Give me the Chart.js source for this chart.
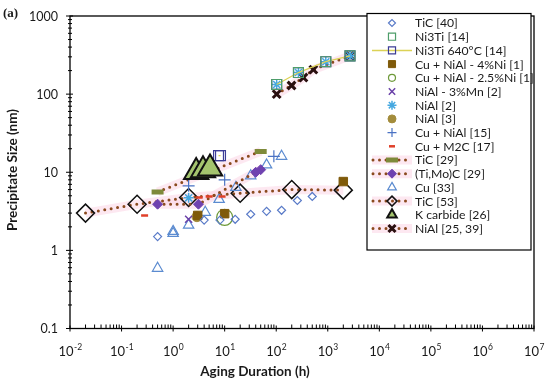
<!DOCTYPE html>
<html>
<head>
<meta charset="utf-8">
<script src="https://cdn.jsdelivr.net/npm/chart.js@4.4.1/dist/chart.umd.min.js"></script>
<style>
  html, body { margin: 0; padding: 0; background: #fff; }
</style>
</head>
<body>
<canvas id="chart" width="550" height="383"></canvas>
<script>
// Values (aging time in h, precipitate size in nm)
const tic40X = [0.5, 4, 8.1, 16, 32, 65, 127, 257, 500];
const tic40Y = [1.5, 2.44, 2.44, 2.5, 2.9, 3.16, 3.26, 4.35, 4.9];
const ni3tiX = [102, 270, 915, 2700];
const ni3tiY = [133, 189, 260, 309];
const ni3ti640X = [7.6, 8.3, 102, 270, 915, 2700];
const ni3ti640Y = [16.3, 16.3, 133, 189, 260, 309];
const cuNiAl4X = [3, 10, 2000];
const cuNiAl4Y = [2.8, 2.95, 7.6];
const cuNiAl25X = [10];
const cuNiAl25Y = [2.65];
const niAlMnX = [2];
const niAlMnY = [2.5];
const niAl2X = [2, 102, 270, 915, 2700];
const niAl2Y = [4.7, 133, 189, 260, 309];
const niAl3X = [2.9];
const niAl3Y = [2.7];
const cuNiAl15X = [2, 10, 90];
const cuNiAl15Y = [6.7, 8, 16];
const cuM2CX = [0.28, 3.2, 5, 8.9];
const cuM2CY = [2.8, 4.75, 4.9, 4.9];
const tic29X = [0.5, 50];
const tic29Y = [5.6, 18.5];
const tiMoCX = [0.5, 3.1, 40, 50];
const tiMoCY = [3.9, 3.9, 10, 10.8];
const cu33X = [0.5, 1, 1, 2, 4.2, 7.8, 16.5, 32, 65, 127];
const cu33Y = [0.59, 1.65, 1.75, 2.1, 3.07, 4.5, 6.4, 9.0, 12.4, 16];
const tic53X = [0.02, 0.2, 2, 20, 200, 2000];
const tic53Y = [3.0, 3.9, 4.75, 5.4, 6.0, 5.9];
const kCarbideX = [2.8, 3.8, 5.2];
const kCarbideY = [10.1, 10.6, 11.2];
const niAl2539X = [102, 198, 337, 525, 2700];
const niAl2539Y = [100, 129, 163, 206, 309];

const xTickExp = [-2, -1, 0, 1, 2, 3, 4, 5, 6, 7];
const yTicks = [0.1, 1, 10, 100, 1000];

const DOT = '#8B4A1E';
const GLOW = 'rgba(252, 214, 230, 0.55)';
const FONT = 'Lato, "Open Sans", sans-serif';

function pts(xs, ys) {
  return xs.map((x, i) => ({ x: x, y: ys[i] }));
}

// series styles; the box legend is drawn from the same list
const series = [
  { label: 'TiC [40]', xs: tic40X, ys: tic40Y, style: 'rectRot', r: 4, lr: 3.5, stroke: '#5A7BC8', fill: 'rgba(0,0,0,0)', bw: 1.2 },
  { label: 'Ni3Ti [14]', xs: ni3tiX, ys: ni3tiY, style: 'rect', r: 7, lr: 5, stroke: '#4E9E6A', fill: 'rgba(0,0,0,0)', bw: 1.2 },
  { label: 'Ni3Ti 640°C [14]', xs: ni3ti640X, ys: ni3ti640Y, style: 'rect', r: 7, lr: 5, stroke: '#3C3C96', fill: 'rgba(0,0,0,0)', bw: 1.2, line: '#DCD256', gapAt: 1 },
  { label: 'Cu + NiAl - 4%Ni [1]', xs: cuNiAl4X, ys: cuNiAl4Y, style: 'rect', r: 6, lr: 5, stroke: '#7F5A0A', fill: '#7F5A0A', bw: 1 },
  { label: 'Cu + NiAl - 2.5%Ni [1]', xs: cuNiAl25X, ys: cuNiAl25Y, style: 'circle', r: 8, lr: 3.5, stroke: '#6E9A3A', fill: 'rgba(0,0,0,0)', bw: 1.2 },
  { label: 'NiAl - 3%Mn [2]', xs: niAlMnX, ys: niAlMnY, style: 'crossRot', r: 5, lr: 4.5, stroke: '#6A40A8', fill: 'rgba(0,0,0,0)', bw: 1.5 },
  { label: 'NiAl [2]', xs: niAl2X, ys: niAl2Y, style: 'star', r: 5, lr: 4.5, stroke: '#45A8E0', fill: 'rgba(0,0,0,0)', bw: 1.5 },
  { label: 'NiAl [3]', xs: niAl3X, ys: niAl3Y, style: 'circle', r: 5, lr: 4, stroke: '#A38C3C', fill: '#A38C3C', bw: 1 },
  { label: 'Cu + NiAl [15]', xs: cuNiAl15X, ys: cuNiAl15Y, style: 'cross', r: 6, lr: 4.5, stroke: '#4A72C4', fill: 'rgba(0,0,0,0)', bw: 1.2 },
  { label: 'Cu + M2C [17]', xs: cuM2CX, ys: cuM2CY, style: 'line', r: 3.5, lr: 3, stroke: '#E0402A', fill: '#E0402A', bw: 2.5 },
  { label: 'TiC [29]', xs: tic29X, ys: tic29Y, style: 'line', r: 6, lr: 6, stroke: '#7E8A3A', fill: '#7E8A3A', bw: 5, dotted: true },
  { label: '(Ti,Mo)C [29]', xs: tiMoCX, ys: tiMoCY, style: 'rectRot', r: 5, lr: 4.5, stroke: '#6F42B0', fill: '#6F42B0', bw: 1, dotted: true },
  { label: 'Cu [33]', xs: cu33X, ys: cu33Y, style: 'triangle', r: 6, lr: 5, stroke: '#5B8BD0', fill: 'rgba(0,0,0,0)', bw: 1.2 },
  { label: 'TiC [53]', xs: tic53X, ys: tic53Y, style: 'rectRot', r: 9, lr: 5, stroke: '#111111', fill: 'rgba(0,0,0,0)', bw: 1.5, dotted: true },
  { label: 'K carbide [26]', xs: kCarbideX, ys: kCarbideY, style: 'triangle', r: 14, lr: 5.5, stroke: '#111111', fill: '#A4C46E', bw: 2 },
  { label: 'NiAl [25, 39]', xs: niAl2539X, ys: niAl2539Y, style: 'crossRot', r: 5.5, lr: 5, stroke: '#2A1010', fill: '#2A1010', bw: 3, dotted: true }
];

const datasets = [];
series.forEach((s, i) => {
  const ds = {
    label: s.label,
    data: pts(s.xs, s.ys),
    pointStyle: s.style,
    pointRadius: s.r,
    pointHoverRadius: s.r,
    pointBorderWidth: s.bw,
    pointBorderColor: s.stroke,
    pointBackgroundColor: s.fill,
    showLine: !!(s.dotted || s.line),
    borderColor: s.dotted ? DOT : (s.line || s.stroke),
    borderWidth: s.dotted ? 3 : 1.3,
    borderDash: s.dotted ? [0, 6.5] : [],
    borderCapStyle: s.dotted ? 'round' : 'butt',
    order: s.label === 'K carbide [26]' ? 0 : i + 1
  };
  if (s.gapAt !== undefined) {
    ds.segment = { borderColor: c => (c.p0DataIndex === s.gapAt ? 'rgba(0,0,0,0)' : undefined) };
  }
  datasets.push(ds);
  if (s.dotted) {
    datasets.push({
      label: '_glow' + i,
      data: pts(s.xs, s.ys),
      showLine: true,
      pointRadius: 0,
      borderColor: GLOW,
      borderWidth: 9,
      order: 100
    });
  }
});

const axesPlugin = {
  id: 'axes',
  afterDraw(chart) {
    const ctx = chart.ctx;
    const a = chart.chartArea;
    const xs = chart.scales.x;
    const ys = chart.scales.y;
    ctx.save();
    ctx.strokeStyle = '#000';
    ctx.lineWidth = 1.3;
    ctx.strokeRect(a.left, a.top, a.right - a.left, a.bottom - a.top);

    ctx.lineWidth = 1;
    // x ticks: major crossing the axis, minor pointing in
    for (let e = -2; e <= 7; e++) {
      const px = xs.getPixelForValue(Math.pow(10, e));
      ctx.beginPath();
      ctx.moveTo(px, a.bottom - 3); ctx.lineTo(px, a.bottom + 3);
      ctx.stroke();
      if (e < 7) {
        for (let m = 2; m <= 9; m++) {
          const mx = xs.getPixelForValue(m * Math.pow(10, e));
          ctx.beginPath();
          ctx.moveTo(mx, a.bottom); ctx.lineTo(mx, a.bottom - 4);
          ctx.stroke();
        }
      }
    }
    // y ticks
    for (let e = -1; e <= 3; e++) {
      const py = ys.getPixelForValue(Math.pow(10, e));
      ctx.beginPath();
      ctx.moveTo(a.left - 4, py); ctx.lineTo(a.left + 3, py);
      ctx.stroke();
      if (e < 3) {
        for (let m = 2; m <= 9; m++) {
          const my = ys.getPixelForValue(m * Math.pow(10, e));
          ctx.beginPath();
          ctx.moveTo(a.left - 2, my); ctx.lineTo(a.left + 2, my);
          ctx.stroke();
        }
      }
    }

    // y labels
    ctx.fillStyle = '#1a1a1a';
    ctx.font = '12.5px ' + FONT;
    ctx.textAlign = 'right';
    ctx.textBaseline = 'middle';
    yTicks.forEach(v => {
      ctx.fillText(String(v), 58, ys.getPixelForValue(v) + 0.5);
    });

    // x labels, "10" with a raised exponent
    ctx.textAlign = 'left';
    ctx.textBaseline = 'alphabetic';
    xTickExp.forEach(e => {
      const px = xs.getPixelForValue(Math.pow(10, e));
      ctx.font = '13px ' + FONT;
      const bw = ctx.measureText('10').width;
      ctx.font = '8.5px ' + FONT;
      const es = e < 0 ? '-' + (-e) : String(e);
      const ew = ctx.measureText(es).width;
      const x0 = px - (bw + ew) / 2;
      ctx.font = '13px ' + FONT;
      ctx.fillText('10', x0, a.bottom + 27);
      ctx.font = '8.5px ' + FONT;
      ctx.fillText(es, x0 + bw + 0.5, a.bottom + 21);
    });

    // axis titles
    ctx.font = 'bold 13.5px ' + FONT;
    ctx.textAlign = 'center';
    ctx.textBaseline = 'middle';
    ctx.fillText('Aging Duration (h)', 255, 372);
    ctx.save();
    ctx.translate(13, 170);
    ctx.rotate(-Math.PI / 2);
    ctx.fillText('Precipitate Size (nm)', 0, 0);
    ctx.restore();

    ctx.font = 'bold 13px "Liberation Serif", serif';
    ctx.textAlign = 'left';
    ctx.fillText('(a)', 3, 14);
    ctx.restore();
  }
};

const legendPlugin = {
  id: 'boxLegend',
  afterDraw(chart) {
    const ctx = chart.ctx;
    const left = 367, top = 13.5, right = 531, bottom = 250;
    ctx.save();
    ctx.fillStyle = '#fff';
    ctx.fillRect(left, top, right - left, bottom - top);
    ctx.strokeStyle = '#000';
    ctx.lineWidth = 1.2;
    ctx.strokeRect(left, top, right - left, bottom - top);
    const mx = 392, tx = 415;
    series.forEach((s, i) => {
      const y = 23 + i * 13.7;
      if (s.dotted) {
        ctx.strokeStyle = GLOW;
        ctx.lineWidth = 9;
        ctx.beginPath(); ctx.moveTo(372, y); ctx.lineTo(412, y); ctx.stroke();
        ctx.strokeStyle = DOT;
        ctx.lineWidth = 3;
        ctx.lineCap = 'round';
        ctx.setLineDash([0, 6.5]);
        ctx.beginPath(); ctx.moveTo(373, y); ctx.lineTo(411, y); ctx.stroke();
        ctx.setLineDash([]);
        ctx.lineCap = 'butt';
      } else if (s.line) {
        ctx.strokeStyle = s.line;
        ctx.lineWidth = 1.5;
        ctx.beginPath(); ctx.moveTo(372, y); ctx.lineTo(412, y); ctx.stroke();
      }
      ctx.fillStyle = s.fill;
      ctx.strokeStyle = s.stroke;
      ctx.lineWidth = s.bw;
      Chart.helpers.drawPoint(ctx, { pointStyle: s.style, radius: s.lr, borderWidth: s.bw, rotation: 0 }, mx, y);
      ctx.fillStyle = '#1a1a1a';
      ctx.font = '12.2px ' + FONT;
      ctx.textAlign = 'left';
      ctx.textBaseline = 'middle';
      ctx.fillText(s.label, tx, y + 0.5);
    });
    ctx.restore();
  }
};

const chart = new Chart(document.getElementById('chart').getContext('2d'), {
  type: 'scatter',
  data: { datasets: datasets },
  options: {
    responsive: false,
    animation: false,
    devicePixelRatio: 1,
    layout: { padding: { left: 70, right: 13, top: 10.5, bottom: 54.5 } },
    plugins: {
      legend: { display: false },
      tooltip: { enabled: false }
    },
    scales: {
      x: { type: 'logarithmic', min: 0.01, max: 1e7, display: false },
      y: { type: 'logarithmic', min: 0.1, max: 1000, display: false }
    }
  },
  plugins: [axesPlugin, legendPlugin]
});
</script>
</body>
</html>
